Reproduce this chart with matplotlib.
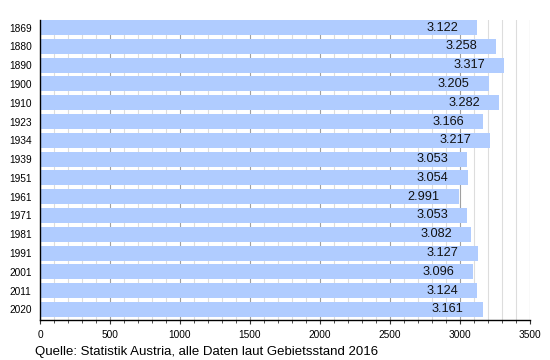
import matplotlib
matplotlib.use("Agg")
import matplotlib.pyplot as plt
from matplotlib.ticker import MultipleLocator

years = ["1869", "1880", "1890", "1900", "1910", "1923", "1934", "1939",
         "1951", "1961", "1971", "1981", "1991", "2001", "2011", "2020"]
values = [3122, 3258, 3317, 3205, 3282, 3166, 3217, 3053,
          3054, 2991, 3053, 3082, 3127, 3096, 3124, 3161]
xticks = [0, 500, 1000, 1500, 2000, 2500, 3000, 3500]
source = "Quelle: Statistik Austria, alle Daten laut Gebietsstand 2016"

plt.rcParams['font.family'] = ['Liberation Sans', 'DejaVu Sans']

fig = plt.figure(figsize=(5.5, 3.6), dpi=100)
ax = fig.add_axes([40/550, 1-320/360, 490/550, 300/360])

pos = list(range(len(years)))
ax.barh(pos, values, height=0.8, color="#b0ccff", zorder=2)
for p, v in zip(pos, values):
    lab = f"{v/1000:.3f}"
    ax.annotate(lab, (v, p), xytext=(-13.7, 0), textcoords="offset points",
                ha="right", va="center", fontsize=9.2, color="#111111", zorder=3)

ax.set_xlim(0, 3500)
ax.set_ylim(len(years) - 1 + 0.56, -0.4)
ax.set_yticks(pos)
ax.set_yticklabels(years, fontsize=7.3)
ax.set_xticks(xticks)
ax.set_xticklabels([str(t) for t in xticks], fontsize=7.3)
ax.xaxis.set_minor_locator(MultipleLocator(100))
ax.tick_params(axis="y", length=0, pad=6)
ax.tick_params(axis="x", which="major", length=3, width=0.8, pad=4, color="#333333")
ax.tick_params(axis="x", which="minor", length=2.5, width=0.6, color="#333333")
ax.grid(axis="x", which="minor", color="#dddddd", linewidth=0.8, zorder=0)
ax.grid(axis="x", which="major", color="#a0a0a0", linewidth=0.8, zorder=0)
ax.set_axisbelow(True)
for s in ["top", "right"]:
    ax.spines[s].set_visible(False)
ax.spines["left"].set_color("black")
ax.spines["bottom"].set_color("black")
ax.spines["left"].set_linewidth(1)
ax.spines["bottom"].set_linewidth(1)

fig.text(35/550, 1-355/360, source, fontsize=9.5, ha="left", va="baseline", color="black")

fig.savefig("out.png", dpi=100)
